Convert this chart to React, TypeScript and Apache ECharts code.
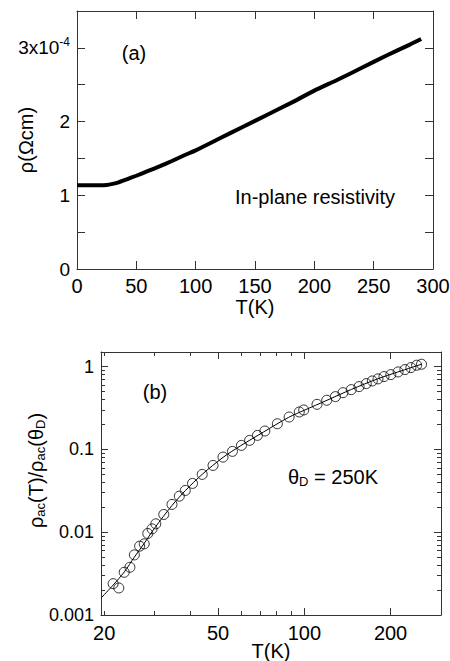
import React, { useEffect, useRef } from 'react';
import * as echarts from 'echarts';

const FONT = "'Liberation Sans', Arial, Helvetica, sans-serif";

// Panel (a): in-plane resistivity vs temperature
const aTemps = [0, 10, 20, 25, 30, 35, 40, 45, 50, 60, 70, 80, 90, 100, 120, 140, 160, 180, 200, 220, 240, 260, 280, 290];
const aRho = [
  1.135e-4, 1.135e-4, 1.135e-4, 1.14e-4, 1.155e-4, 1.175e-4, 1.205e-4, 1.235e-4, 1.265e-4, 1.33e-4,
  1.395e-4, 1.465e-4, 1.54e-4, 1.61e-4, 1.77e-4, 1.93e-4, 2.09e-4, 2.25e-4, 2.42e-4, 2.57e-4,
  2.73e-4, 2.89e-4, 3.04e-4, 3.12e-4,
];

// Panel (b): normalised ac resistivity (circles) and fit line
const bScatterT = [
  21.5, 22.5, 23.5, 24.6, 25.5, 26.6, 27.6, 28.4, 29.4, 30.3, 32.3, 34.5, 36.6, 38.4, 40.7, 44.0,
  48.0, 52.0, 56.1, 60.3, 64.4, 68.6, 72.8, 80.5, 88.5, 96.0, 99.5, 110.7, 119.7, 128.4, 136.4,
  145.8, 155.2, 164.5, 172.7, 180.8, 189.7, 200.4, 212.5, 224.4, 235.5, 246.6, 256.5,
];
const bScatterV = [
  0.00239, 0.00212, 0.00328, 0.00377, 0.00532, 0.00678, 0.00723, 0.00964, 0.01097, 0.01262, 0.01637,
  0.02163, 0.02723, 0.03192, 0.03882, 0.04989, 0.064, 0.0807, 0.0946, 0.1117, 0.1285, 0.1476, 0.1667,
  0.204, 0.246, 0.283, 0.299, 0.35, 0.392, 0.434, 0.484, 0.527, 0.573, 0.623, 0.671, 0.71, 0.757,
  0.8, 0.862, 0.92, 0.972, 1.038, 1.067,
];
const bFitT = [19.6, 21.5, 23.5, 25.5, 27.5, 30, 34.5, 38.5, 44, 52, 60, 72, 88, 100, 120, 146, 180, 212, 257];
const bFitV = [0.00163, 0.0023, 0.0033, 0.005, 0.0072, 0.0112, 0.021, 0.032, 0.05, 0.08, 0.111, 0.162, 0.243, 0.297, 0.392, 0.53, 0.71, 0.86, 1.07];

const bXLabels = [20, 50, 100, 200];
const bXMajorTicks = [50, 100, 200];
const bYLabels = [0.001, 0.01, 0.1, 1];

const axisLine = { show: true, onZero: false, lineStyle: { color: '#333', width: 1 } };
const tickLine = { color: '#333', width: 1 };

export default function App() {
  const ref = useRef<HTMLDivElement>(null);

  useEffect(() => {
    const chart = echarts.init(ref.current!, null, { renderer: 'svg' });

    const labelBase = { color: '#000', fontFamily: FONT, showMinLabel: true, showMaxLabel: true };

    const option: any = {
      animation: false,
      backgroundColor: '#fff',
      grid: [
        { left: 77, top: 11, width: 356, height: 258, containLabel: false, outerBoundsMode: 'none' },
        { left: 101, top: 352, width: 340, height: 263, containLabel: false, outerBoundsMode: 'none' },
      ],
      xAxis: [
        {
          gridIndex: 0, type: 'value', min: 0, max: 300, interval: 50, position: 'bottom',
          axisLine, axisTick: { show: true, inside: true, length: 8, lineStyle: tickLine },
          axisLabel: { ...labelBase, fontSize: 20, lineHeight: 18, margin: 8 },
          splitLine: { show: false },
          name: 'T(K)', nameLocation: 'middle', nameGap: 28, nameMoveOverlap: false,
          nameTextStyle: { color: '#000', fontFamily: FONT, fontSize: 20, lineHeight: 20 },
        },
        {
          gridIndex: 0, type: 'value', min: 0, max: 300, interval: 50, position: 'top',
          axisLine, axisTick: { show: true, inside: true, length: 8, lineStyle: tickLine },
          axisLabel: { show: false }, splitLine: { show: false },
        },
        {
          gridIndex: 1, type: 'log', logBase: 10, min: 19.5, max: 300, position: 'bottom',
          axisLine,
          axisTick: { show: true, inside: true, length: 7, lineStyle: tickLine, customValues: bXMajorTicks },
          minorTick: { show: true, splitNumber: 9, length: 4, lineStyle: tickLine },
          axisLabel: {
            ...labelBase, fontSize: 20, lineHeight: 18, margin: 9, customValues: bXLabels,
            formatter: (v: number) => String(Math.round(v)),
          },
          splitLine: { show: false }, minorSplitLine: { show: false },
          name: 'T(K)', nameLocation: 'middle', nameGap: 27, nameMoveOverlap: false,
          nameTextStyle: { color: '#000', fontFamily: FONT, fontSize: 20, lineHeight: 18 },
        },
        {
          gridIndex: 1, type: 'log', logBase: 10, min: 19.5, max: 300, position: 'top',
          axisLine,
          axisTick: { show: true, inside: true, length: 7, lineStyle: tickLine, customValues: bXMajorTicks },
          minorTick: { show: true, splitNumber: 9, length: 4, lineStyle: tickLine },
          axisLabel: { show: false }, splitLine: { show: false }, minorSplitLine: { show: false },
        },
      ],
      yAxis: [
        {
          gridIndex: 0, type: 'value', min: 0, max: 3.5e-4, interval: 0.5e-4, position: 'left',
          axisLine, axisTick: { show: true, inside: true, length: 8, lineStyle: tickLine },
          axisLabel: {
            ...labelBase, fontSize: 19, margin: 7,
            formatter: (v: number) => {
              const k = Math.round(v * 1e4 * 2) / 2;
              if (k === 3) return '{m|3x10}{s|-4}';
              if (Number.isInteger(k)) return '{m|' + k + '}';
              return '';
            },
            rich: {
              m: { fontSize: 19, fontFamily: FONT, color: '#000', lineHeight: 24 },
              s: { fontSize: 12, fontFamily: FONT, color: '#000', lineHeight: 10, verticalAlign: 'top' },
            },
          },
          splitLine: { show: false },
          name: 'ρ(Ωcm)', nameLocation: 'middle', nameGap: 40, nameRotate: 90, nameMoveOverlap: false,
          nameTextStyle: { color: '#000', fontFamily: FONT, fontSize: 20, lineHeight: 22 },
        },
        {
          gridIndex: 0, type: 'value', min: 0, max: 3.5e-4, interval: 0.5e-4, position: 'right',
          axisLine, axisTick: { show: true, inside: true, length: 8, lineStyle: tickLine },
          axisLabel: { show: false }, splitLine: { show: false },
        },
        {
          gridIndex: 1, type: 'log', logBase: 10, min: 0.001, max: 1.5, position: 'left',
          axisLine,
          axisTick: { show: true, inside: true, length: 7, lineStyle: tickLine, customValues: bYLabels },
          minorTick: { show: true, splitNumber: 9, length: 4, lineStyle: tickLine },
          axisLabel: {
            ...labelBase, fontSize: 18, margin: 7, customValues: bYLabels,
            formatter: (v: number) => String(Number(v.toPrecision(3))),
          },
          splitLine: { show: false }, minorSplitLine: { show: false },
          name: '{r|ρ}{s|ac}{r|(T)/ρ}{s|ac}{r|(θ}{s|D}{r|)}',
          nameLocation: 'middle', nameGap: 54, nameRotate: 90, nameMoveOverlap: false,
          nameTextStyle: {
            color: '#000', fontFamily: FONT, fontSize: 20, padding: [0, 0, 0, 26],
            rich: {
              r: { fontSize: 20, fontFamily: FONT, color: '#000', lineHeight: 22 },
              s: { fontSize: 13, fontFamily: FONT, color: '#000', lineHeight: 8, verticalAlign: 'bottom' },
            },
          },
        },
        {
          gridIndex: 1, type: 'log', logBase: 10, min: 0.001, max: 1.5, position: 'right',
          axisLine,
          axisTick: { show: true, inside: true, length: 7, lineStyle: tickLine, customValues: bYLabels },
          minorTick: { show: true, splitNumber: 9, length: 4, lineStyle: tickLine },
          axisLabel: { show: false }, splitLine: { show: false }, minorSplitLine: { show: false },
        },
      ],
      series: [
        {
          type: 'line', xAxisIndex: 0, yAxisIndex: 0,
          data: aTemps.map((t, i) => [t, aRho[i]]),
          symbol: 'none', showSymbol: false, smooth: 0.2,
          lineStyle: { color: '#000', width: 4 },
        },
        {
          type: 'line', xAxisIndex: 2, yAxisIndex: 2,
          data: bFitT.map((t, i) => [t, bFitV[i]]),
          symbol: 'none', showSymbol: false, smooth: 0.3,
          lineStyle: { color: '#000', width: 1 },
        },
        {
          type: 'scatter', xAxisIndex: 2, yAxisIndex: 2,
          data: bScatterT.map((t, i) => [t, bScatterV[i]]),
          symbol: 'circle', symbolSize: 10,
          itemStyle: { color: 'rgba(0,0,0,0)', borderColor: '#000', borderWidth: 1 },
        },
      ],
      graphic: [
        {
          type: 'text', x: 134, y: 53,
          style: { text: '(a)', fontSize: 20, fontFamily: FONT, fill: '#000', align: 'center', verticalAlign: 'middle' },
        },
        {
          type: 'text', x: 235, y: 197,
          style: { text: 'In-plane resistivity', fontSize: 20, fontFamily: FONT, fill: '#000', align: 'left', verticalAlign: 'middle' },
        },
        {
          type: 'text', x: 155, y: 392,
          style: { text: '(b)', fontSize: 20, fontFamily: FONT, fill: '#000', align: 'center', verticalAlign: 'middle' },
        },
        {
          type: 'text', x: 288, y: 477,
          style: {
            text: '{r|θ}{s|D}{r| = 250K}', fontFamily: FONT, fontSize: 20, fill: '#000', align: 'left', verticalAlign: 'middle',
            rich: {
              r: { fontSize: 20, fontFamily: FONT, fill: '#000', lineHeight: 22 },
              s: { fontSize: 13, fontFamily: FONT, fill: '#000', lineHeight: 8, verticalAlign: 'bottom' },
            },
          },
        },
      ],
    };

    chart.setOption(option);
    return () => chart.dispose();
  }, []);

  return (
    <div
      ref={ref}
      style={{ position: 'absolute', left: 0, top: 0, width: 450, height: 661, background: '#fff' }}
    />
  );
}
